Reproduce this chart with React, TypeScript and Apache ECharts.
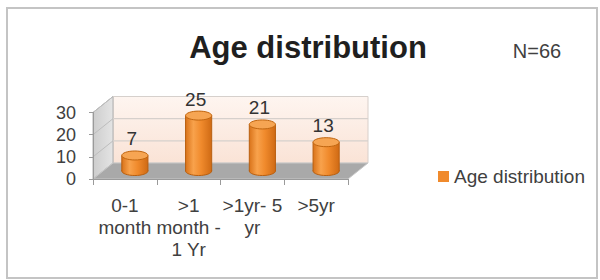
import React, { useEffect, useRef } from 'react';
import * as echarts from 'echarts';

const categories = ['0-1\nmonth', '>1\nmonth -\n1 Yr', '>1yr- 5\nyr', '>5yr'];
const values = [7, 25, 21, 13];
const yTicks = [0, 10, 20, 30];
const seriesName = 'Age distribution';
const titleText = 'Age distribution';
const noteText = 'N=66';

const FONT = '"Liberation Sans", Arial, sans-serif';
const DX = 20;
const DY = -16;
const Y_MAX = yTicks[yTicks.length - 1];

export default function App() {
  const ref = useRef<HTMLDivElement>(null);
  useEffect(() => {
    if (!ref.current) return;
    const chart = echarts.init(ref.current, undefined, { renderer: 'svg' });

    const wallsRender = (params: any, api: any) => {
      const bw = api.size([1, 0])[0];
      const p0 = api.coord([0, 0]);
      const p3 = api.coord([categories.length - 1, 0]);
      const xL = p0[0] - bw / 2;
      const xR = p3[0] + bw / 2;
      const yB = p0[1];
      const yT = api.coord([0, Y_MAX])[1];
      const children: any[] = [];
      children.push({
        type: 'rect',
        shape: { x: xL + DX, y: yT + DY, width: xR - xL, height: yB - yT },
        style: {
          fill: new echarts.graphic.LinearGradient(0, 0, 0, 1, [
            { offset: 0, color: '#fef5f0' },
            { offset: 1, color: '#fae3d6' },
          ]),
          stroke: '#d8cfca',
          lineWidth: 1,
        },
      });
      children.push({
        type: 'polygon',
        shape: { points: [[xL, yB], [xL, yT], [xL + DX, yT + DY], [xL + DX, yB + DY]] },
        style: {
          fill: new echarts.graphic.LinearGradient(0, 0, 1, 0, [
            { offset: 0, color: '#cdcdcd' },
            { offset: 1, color: '#e4e4e4' },
          ]),
          stroke: '#b0b0b0',
          lineWidth: 1,
        },
      });
      children.push({
        type: 'polygon',
        shape: { points: [[xL, yB], [xR, yB], [xR + DX, yB + DY], [xL + DX, yB + DY]] },
        style: { fill: '#a9a9a9', stroke: '#c8c8c8', lineWidth: 1 },
      });
      yTicks.forEach((t) => {
        if (t === 0) return;
        const y = api.coord([0, t])[1];
        children.push({
          type: 'line',
          shape: { x1: xL + DX, y1: y + DY, x2: xR + DX, y2: y + DY },
          style: { stroke: '#d6d0cc', lineWidth: 1.2 },
        });
        children.push({
          type: 'line',
          shape: { x1: xL, y1: y, x2: xL + DX, y2: y + DY },
          style: { stroke: '#bdbdbd', lineWidth: 1 },
        });
      });
      return { type: 'group', children };
    };

    const barsRender = (params: any, api: any) => {
      const idx = api.value(0);
      const val = api.value(1);
      const c = api.coord([idx, val]);
      const b = api.coord([idx, 0]);
      const bw = api.size([1, 0])[0];
      const w = bw * 0.41;
      const cx = c[0] + DX / 2;
      const top = c[1] + DY / 2;
      const base = b[1] + DY / 2;
      const ry = 4.5;
      const bodyGrad = new echarts.graphic.LinearGradient(0, 0, 1, 0, [
        { offset: 0, color: '#d9731a' },
        { offset: 0.3, color: '#f8a24c' },
        { offset: 0.6, color: '#f08a2c' },
        { offset: 1, color: '#cf6a14' },
      ]);
      return {
        type: 'group',
        children: [
          {
            type: 'ellipse',
            shape: { cx, cy: base, rx: w / 2, ry },
            style: { fill: bodyGrad, stroke: '#b85f10', lineWidth: 1 },
          },
          {
            type: 'rect',
            shape: { x: cx - w / 2, y: top, width: w, height: base - top },
            style: { fill: bodyGrad },
          },
          {
            type: 'line',
            shape: { x1: cx - w / 2, y1: top, x2: cx - w / 2, y2: base },
            style: { stroke: '#b85f10', lineWidth: 1 },
          },
          {
            type: 'line',
            shape: { x1: cx + w / 2, y1: top, x2: cx + w / 2, y2: base },
            style: { stroke: '#b85f10', lineWidth: 1 },
          },
          {
            type: 'ellipse',
            shape: { cx, cy: top, rx: w / 2, ry },
            style: { fill: '#f6a553', stroke: '#c0650f', lineWidth: 1 },
          },
          {
            type: 'text',
            x: cx - 3,
            y: top - 16.5,
            style: {
              text: String(val),
              font: `19px ${FONT}`,
              fill: '#333333',
              align: 'center',
              verticalAlign: 'middle',
            },
          },
        ],
      };
    };

    chart.setOption({
      animation: false,
      backgroundColor: '#ffffff',
      grid: { left: 93, right: 252, top: 112.5, bottom: 101, containLabel: false },
      legend: {
        data: [seriesName],
        left: 433,
        top: 162,
        icon: 'rect',
        itemWidth: 11,
        itemHeight: 11,
        itemGap: 5,
        textStyle: { fontSize: 19, color: '#404040', fontFamily: FONT },
      },
      xAxis: {
        type: 'category',
        data: categories,
        boundaryGap: true,
        axisLine: { show: true, lineStyle: { color: '#9a9a9a', width: 1 } },
        axisTick: { show: true, length: 6, lineStyle: { color: '#9a9a9a' } },
        axisLabel: {
          interval: 0,
          margin: 15,
          fontSize: 19,
          lineHeight: 22,
          color: '#404040',
          fontFamily: FONT,
        },
        z: 5,
      },
      yAxis: {
        type: 'value',
        min: 0,
        max: Y_MAX,
        interval: 10,
        axisLine: { show: true, lineStyle: { color: '#9a9a9a', width: 1 } },
        axisTick: { show: true, length: 4, lineStyle: { color: '#9a9a9a' } },
        splitLine: { show: false },
        axisLabel: { margin: 17, fontSize: 18, color: '#404040', fontFamily: FONT },
        z: 5,
      },
      series: [
        {
          type: 'custom',
          name: 'walls',
          renderItem: wallsRender,
          data: [[0, 0]],
          encode: { x: 0, y: 1 },
          silent: true,
          z: 1,
        },
        {
          type: 'custom',
          name: seriesName,
          renderItem: barsRender,
          data: values.map((v, i) => [i, v]),
          encode: { x: 0, y: 1 },
          itemStyle: { color: '#f08a2c' },
          z: 3,
        },
      ],
      graphic: [
        {
          type: 'rect',
          shape: { x: 7, y: 8, width: 590, height: 270 },
          style: { fill: 'none', stroke: '#c4c4c4', lineWidth: 2 },
          z: 10,
        },
        {
          type: 'text',
          x: 308,
          y: 47,
          style: {
            text: titleText,
            font: `bold 31px ${FONT}`,
            fill: '#1f1f1f',
            align: 'center',
            verticalAlign: 'middle',
          },
        },
        {
          type: 'text',
          x: 537,
          y: 51,
          style: {
            text: noteText,
            font: `20px ${FONT}`,
            fill: '#404040',
            align: 'center',
            verticalAlign: 'middle',
          },
        },
      ],
    });
    return () => chart.dispose();
  }, []);
  return (
    <div
      ref={ref}
      style={{ position: 'fixed', left: 0, top: 0, width: 600, height: 280 }}
    />
  );
}
